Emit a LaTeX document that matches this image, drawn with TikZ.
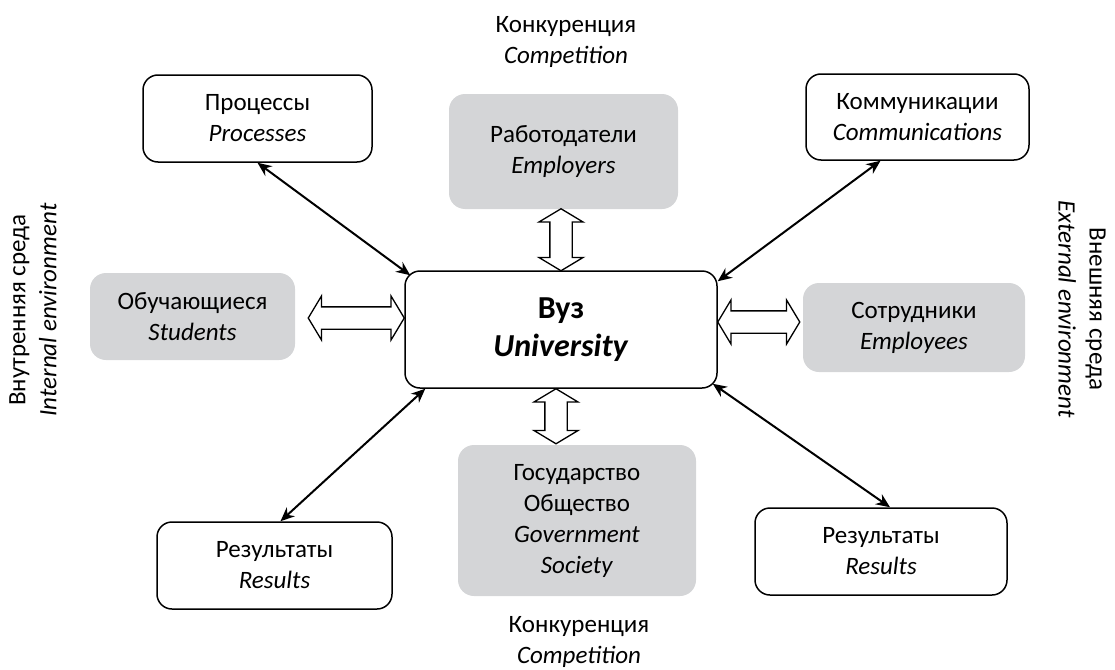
\documentclass[tikz,border=0pt]{standalone}
\usepackage{fontspec}
\setmainfont{Carlito}
\usetikzlibrary{calc,shapes.arrows,arrows.meta}
\definecolor{boxgray}{RGB}{212,213,215}

\begin{document}
\begin{tikzpicture}[x=1pt,y=-1pt,font=\fontsize{25}{31}\selectfont]
\tikzstyle{plain box}=[draw,line width=1.5pt,rounded corners=15,align=center,fill=white]
\tikzstyle{gray box}=[fill=boxgray,rounded corners=16,align=center]
\tikzstyle{link}=[{Stealth[length=14pt,width=12pt]}-{Stealth[length=14pt,width=12pt]},line width=2pt]
\tikzstyle{flow}=[double arrow,draw,fill=white,line width=1.3pt,inner sep=0,inner ysep=10.5pt,double arrow head extend=11pt,double arrow tip angle=118,minimum width=0]

\useasboundingbox (0,0) rectangle (1115,669);

% centre
\node(uni)[plain box,minimum width=312,minimum height=117,font=\fontsize{32}{38}\selectfont\bfseries] at (561,329.5) {Вуз\\\textit{University}};

% inner ring
\node(empr)[gray box,minimum width=229,minimum height=115] at (563.5,151.5) {Работодатели\\\textit{Employers}};
\node(stud)[gray box,minimum width=205,minimum height=87] at (192.5,316.5) {Обучающиеся\\\textit{Students}};
\node(empe)[gray box,minimum width=222,minimum height=89] at (914,327.5) {Сотрудники\\\textit{Employees}};
\node(gov)[gray box,minimum width=238,minimum height=151] at (577,520.5) {Государство\\Общество\\\textit{Government}\\\textit{Society}};

% outer corners
\node(proc)[plain box,minimum width=229,minimum height=87] at (257.5,118.5) {Процессы\\\textit{Processes}};
\node(comm)[plain box,minimum width=223,minimum height=86] at (917.5,117) {Коммуникации\\\textit{Communications}};
\node(resL)[plain box,minimum width=235,minimum height=87] at (274.5,565.5) {Результаты\\\textit{Results}};
\node(resR)[plain box,minimum width=252,minimum height=87] at (881,551.5) {Результаты\\\textit{Results}};

% two-way links
\draw[link] (proc.south) -- ($(uni.north west)+(6,5)$);
\draw[link] ($(comm.south)+(-37,0)$) -- ($(uni.north east)+(0,11)$);
\draw[link] ($(uni.south west)+(21,0)$) -- ($(resL.north)+(6,0)$);
\draw[link] ($(uni.south east)+(-5,-5)$) -- ($(resR.north)+(9,0)$);

% hollow arrows
\node(a1)[flow,rotate=90,minimum height=62] at ($(uni.north)+(0,-30.5)$) {};
\node(a2)[flow,minimum height=96] at ($(uni.west)+(-48,-11.5)$) {};
\node(a3)[flow,minimum height=82] at ($(uni.east)+(41,-7.5)$) {};
\node(a4)[flow,rotate=90,minimum height=55] at ($(uni.south)+(-5,27.5)$) {};

% environment labels
\node(inner)[rotate=90,align=center] at (33,310) {Внутренняя среда\\\textit{Internal environment}};
\node(outer)[rotate=-90,align=center] at (1082,309) {Внешняя среда\\\textit{External environment}};
\node(comptop)[align=center] at (566,42) {Конкуренция\\\textit{Competition}};
\node(compbot)[align=center] at (579,642) {Конкуренция\\\textit{Competition}};

\end{tikzpicture}
\end{document}
